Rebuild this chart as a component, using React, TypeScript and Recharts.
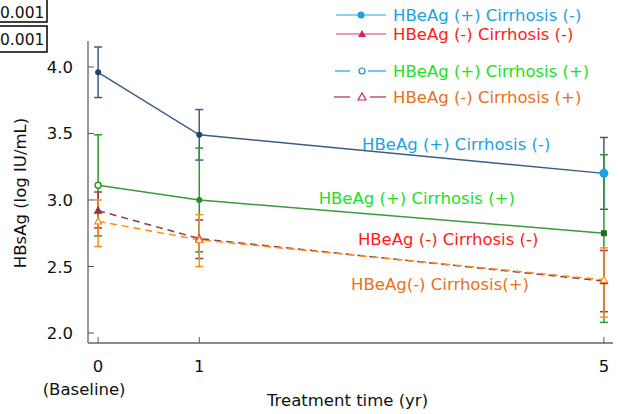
import React from "react";
import {
  ComposedChart,
  Line,
  XAxis,
  YAxis,
  ErrorBar,
  ReferenceDot,
} from "recharts";

// ---- data ----
const times = [0, 1, 5];
const posNoCirr = [3.96, 3.49, 3.2];
const posNoCirrErr: [number, number][] = [
  [0.19, 0.19],
  [0.19, 0.19],
  [0.27, 0.27],
];
const posCirr = [3.11, 3.0, 2.75];
const posCirrErr: [number, number][] = [
  [0.38, 0.38],
  [0.39, 0.39],
  [0.67, 0.59],
];
const negNoCirr = [2.92, 2.71, 2.39];
const negNoCirrErr: [number, number][] = [
  [0.13, 0.14],
  [0.15, 0.14],
  [0.23, 0.23],
];
const negCirr = [2.84, 2.7, 2.4];
const negCirrErr: [number, number][] = [
  [0.19, 0.16],
  [0.2, 0.19],
  [0.28, 0.24],
];
const xTicks = [0, 1, 5];
const yTicks = [2.0, 2.5, 3.0, 3.5, 4.0];
const seriesNames = [
  "HBeAg (+) Cirrhosis (-)",
  "HBeAg (-) Cirrhosis (-)",
  "HBeAg (+) Cirrhosis (+)",
  "HBeAg (-) Cirrhosis (+)",
];
const annotations = [
  { text: "HBeAg (+) Cirrhosis (-)", x: 3.54, y: 3.42, color: "#1ba1e2" },
  { text: "HBeAg (+) Cirrhosis (+)", x: 3.15, y: 3.015, color: "#22e022" },
  { text: "HBeAg (-) Cirrhosis (-)", x: 3.46, y: 2.707, color: "#ff1a1a" },
  { text: "HBeAg(-) Cirrhosis(+)", x: 3.38, y: 2.37, color: "#e8701a" },
];
const pValues = ["0.001", "0.001"];

const data = times.map((t, i) => ({
  t,
  a: posNoCirr[i],
  ae: posNoCirrErr[i],
  b: posCirr[i],
  be: posCirrErr[i],
  c: negNoCirr[i],
  ce: negNoCirrErr[i],
  d: negCirr[i],
  de: negCirrErr[i],
}));

const FONT = "'DejaVu Sans', Verdana, sans-serif";

const BLUE_LINE = "#3d5b86";
const GREEN_LINE = "#3a9a3a";
const MAROON = "#8e3a48";
const ORANGE = "#ff8c1a";

const YTick = (props: any) => {
  const { x, y, payload } = props;
  return (
    <g>
      <line x1={x} y1={y} x2={x + 6} y2={y} stroke="#555" strokeWidth={1} />
      <text
        x={x - 15}
        y={y}
        dy={6}
        textAnchor="end"
        fontSize={16.5}
        fontFamily={FONT}
        fill="#111"
      >
        {payload.value.toFixed(1)}
      </text>
    </g>
  );
};

const XTick = (props: any) => {
  const { x, y, payload } = props;
  return (
    <g>
      <line x1={x} y1={y} x2={x} y2={y - 6} stroke="#555" strokeWidth={1} />
      <text
        x={x}
        y={y + 29}
        textAnchor="middle"
        fontSize={16.5}
        fontFamily={FONT}
        fill="#111"
      >
        {payload.value}
      </text>
      {payload.value === 0 && (
        <text
          x={x - 14}
          y={y + 52}
          textAnchor="middle"
          fontSize={16.5}
          fontFamily={FONT}
          fill="#111"
        >
          (Baseline)
        </text>
      )}
    </g>
  );
};

const blueDot = (props: any) => {
  const { cx, cy, index } = props;
  if (index === 2)
    return <circle key={index} cx={cx} cy={cy} r={4.5} fill="#1ba1e2" />;
  return <circle key={index} cx={cx} cy={cy} r={3} fill="#24436e" />;
};

const greenDot = (props: any) => {
  const { cx, cy, index } = props;
  if (index === 0)
    return (
      <circle
        key={index}
        cx={cx}
        cy={cy}
        r={3}
        fill="#fff"
        stroke="#2a9a2a"
        strokeWidth={1.5}
      />
    );
  if (index === 2)
    return (
      <rect key={index} x={cx - 3} y={cy - 3} width={6} height={6} fill="#1d6e1d" />
    );
  return <circle key={index} cx={cx} cy={cy} r={3} fill="#2a8a2a" />;
};

const triDot = (color: string, filled: boolean) => (props: any) => {
  const { cx, cy, index } = props;
  const s = 3.5;
  return (
    <polygon
      key={index}
      points={`${cx},${cy - s} ${cx - s},${cy + s * 0.75} ${cx + s},${cy + s * 0.75}`}
      fill={filled ? color : "#fff"}
      stroke={color}
      strokeWidth={1.2}
    />
  );
};

const LegendOverlay = () => {
  const rows = [
    { y: 15, text: seriesNames[0], color: "#1ba1e2" },
    { y: 34, text: seriesNames[1], color: "#ff1a1a" },
    { y: 71, text: seriesNames[2], color: "#22e022" },
    { y: 97, text: seriesNames[3], color: "#e8701a" },
  ];
  const tri = (cx: number, cy: number) =>
    `${cx},${cy - 4} ${cx - 4},${cy + 3} ${cx + 4},${cy + 3}`;
  return (
    <svg
      width={619}
      height={110}
      style={{ position: "absolute", left: 0, top: 0, display: "block" }}
    >
      {pValues.map((p, i) => (
        <g key={i}>
          <rect
            x={-10}
            y={i === 0 ? -1 : 26}
            width={57}
            height={i === 0 ? 23 : 26}
            fill="#fff"
            stroke="#000"
            strokeWidth={1.5}
          />
          <text
            x={0}
            y={i === 0 ? 18 : 45}
            fontSize={15.5}
            fontFamily={FONT}
            fill="#111"
          >
            {p}
          </text>
        </g>
      ))}
      <line x1={336} x2={386} y1={rows[0].y} y2={rows[0].y} stroke="#1ba1e2" strokeWidth={1.2} />
      <circle cx={361} cy={rows[0].y} r={3.5} fill="#1ba1e2" />
      <line x1={336} x2={386} y1={rows[1].y} y2={rows[1].y} stroke="#e0307a" strokeWidth={1.2} />
      <polygon points={tri(362, rows[1].y)} fill="#d0206a" />
      <line x1={335} x2={350} y1={rows[2].y} y2={rows[2].y} stroke="#1ba1e2" strokeWidth={1.2} />
      <line x1={368} x2={386} y1={rows[2].y} y2={rows[2].y} stroke="#1ba1e2" strokeWidth={1.2} />
      <circle cx={362} cy={rows[2].y} r={3} fill="#fff" stroke="#1b8ad2" strokeWidth={1.2} />
      <line x1={334} x2={350} y1={rows[3].y} y2={rows[3].y} stroke="#a03030" strokeWidth={1.2} />
      <line x1={370} x2={386} y1={rows[3].y} y2={rows[3].y} stroke="#a03030" strokeWidth={1.2} />
      <polygon points={tri(362, rows[3].y)} fill="#fff" stroke="#d0206a" strokeWidth={1.2} />
      {rows.map((r, i) => (
        <text
          key={i}
          x={393}
          y={r.y + 6}
          fontSize={16.5}
          fontFamily={FONT}
          fill={r.color}
        >
          {r.text}
        </text>
      ))}
    </svg>
  );
};

const annotationLabel = (text: string, color: string) => (props: any) => {
  const { viewBox } = props;
  const cx = viewBox.x + (viewBox.width || 0) / 2;
  const cy = viewBox.y + (viewBox.height || 0) / 2;
  return (
    <text
      x={cx}
      y={cy + 6}
      textAnchor="middle"
      fontSize={16.5}
      fontFamily={FONT}
      fill={color}
    >
      {text}
    </text>
  );
};

export default function App() {
  return (
    <div
      style={{
        position: "absolute",
        left: 0,
        top: 0,
        width: 619,
        height: 414,
        background: "#fff",
      }}
    >
      <ComposedChart
        width={619}
        height={414}
        data={data}
        margin={{ top: 41, right: 6, bottom: 31, left: 28 }}
      >
        <XAxis
          dataKey="t"
          type="number"
          domain={[-0.1, 5.09]}
          ticks={xTicks}
          allowDataOverflow
          axisLine={{ stroke: "#666", strokeWidth: 1.5 }}
          tickLine={false}
          tickSize={0}
          tickMargin={0}
          tick={<XTick />}
          height={40}
          label={{
            content: (p: any) => {
              const vb = p.viewBox;
              return (
                <text
                  x={vb.x + vb.width / 2 - 3}
                  y={vb.y + 63}
                  textAnchor="middle"
                  fontSize={16.5}
                  fontFamily={FONT}
                  fill="#111"
                >
                  Treatment time (yr)
                </text>
              );
            },
          }}
        />
        <YAxis
          type="number"
          domain={[1.925, 4.195]}
          ticks={yTicks}
          allowDataOverflow
          axisLine={{ stroke: "#777", strokeWidth: 1.5 }}
          tickLine={false}
          tickSize={0}
          tickMargin={0}
          tick={<YTick />}
          width={60}
          label={{
            content: (p: any) => {
              const vb = p.viewBox;
              const cx = vb.x - 8;
              const cy = vb.y + vb.height / 2 + 1;
              return (
                <text
                  x={cx}
                  y={cy}
                  transform={`rotate(-90 ${cx} ${cy})`}
                  textAnchor="middle"
                  dy={6}
                  fontSize={16.5}
                  fontFamily={FONT}
                  fill="#111"
                >
                  HBsAg (log IU/mL)
                </text>
              );
            },
          }}
        />
        <Line
          dataKey="a"
          stroke={BLUE_LINE}
          strokeWidth={1.5}
          dot={blueDot}
          isAnimationActive={false}
        >
          <ErrorBar dataKey="ae" width={4} stroke={BLUE_LINE} strokeWidth={1.5} direction="y" />
        </Line>
        <Line
          dataKey="b"
          stroke={GREEN_LINE}
          strokeWidth={1.5}
          dot={greenDot}
          isAnimationActive={false}
        >
          <ErrorBar dataKey="be" width={4} stroke="#2a9a2a" strokeWidth={1.5} direction="y" />
        </Line>
        <Line
          dataKey="c"
          stroke={MAROON}
          strokeWidth={1.5}
          strokeDasharray="7 5"
          dot={triDot(MAROON, true)}
          isAnimationActive={false}
        >
          <ErrorBar dataKey="ce" width={4} stroke="#9a3a4a" strokeWidth={1.5} direction="y" />
        </Line>
        <Line
          dataKey="d"
          stroke={ORANGE}
          strokeWidth={1.5}
          strokeDasharray="7 5"
          dot={triDot(ORANGE, false)}
          isAnimationActive={false}
        >
          <ErrorBar dataKey="de" width={4} stroke={ORANGE} strokeWidth={1.5} direction="y" />
        </Line>
        {annotations.map((a, i) => (
          <ReferenceDot
            key={i}
            x={a.x}
            y={a.y}
            r={0}
            fill="none"
            stroke="none"
            ifOverflow="visible"
            label={{ content: annotationLabel(a.text, a.color) }}
          />
        ))}
      </ComposedChart>
      <LegendOverlay />
    </div>
  );
}
